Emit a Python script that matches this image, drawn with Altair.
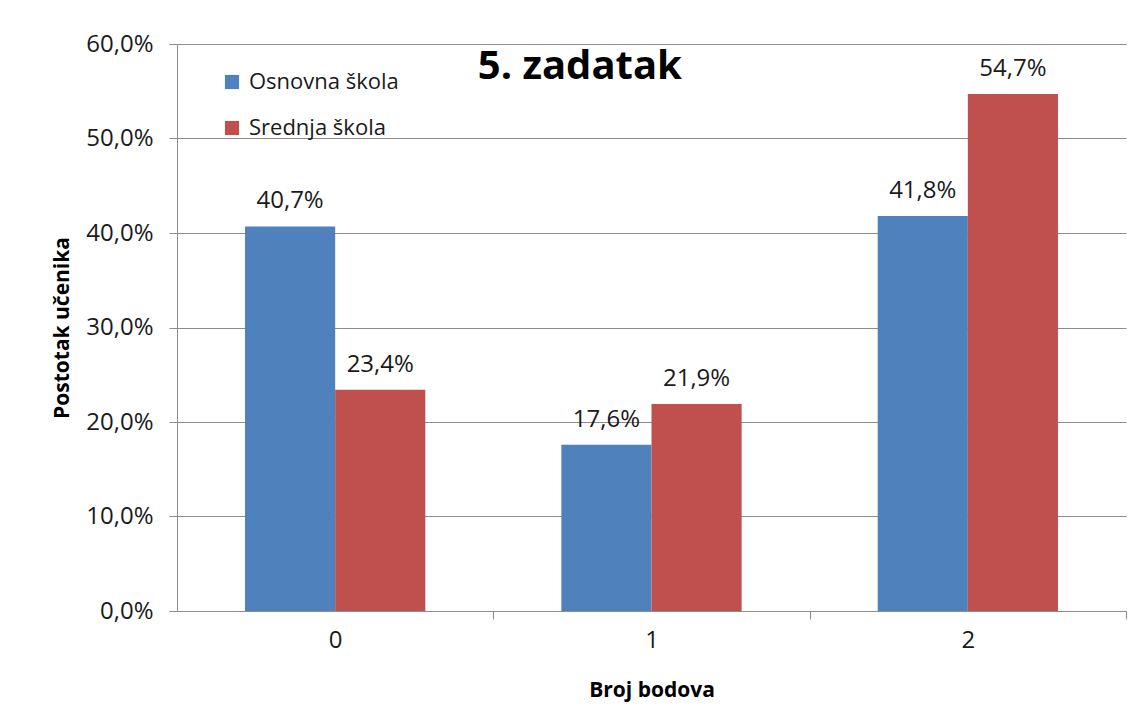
import altair as alt
import pandas as pd

categories = ["0", "1", "2"]
series = ["Osnovna škola", "Srednja škola"]
osnovna = [0.407, 0.176, 0.418]
srednja = [0.234, 0.219, 0.547]
colors = ["#4F81BD", "#C0504D"]
y_ticks = [0.0, 0.1, 0.2, 0.3, 0.4, 0.5, 0.6]

rows = []
for s, vals in zip(series, [osnovna, srednja]):
    for c, v in zip(categories, vals):
        rows.append({"bod": c, "skola": s, "val": v,
                     "lab": f"{v*100:.1f}%".replace(".", ",")})
df = pd.DataFrame(rows)

FONT = "Open Sans"
W, H = 949, 567
STEP = W / len(categories)

x = alt.X("bod:N", sort=categories,
          scale=alt.Scale(paddingInner=0.43, paddingOuter=0.215),
          axis=alt.Axis(title="Broj bodova", labelAngle=0,
                        tickOffset=STEP / 2, labelOffset=-STEP / 2,
                        tickSize=8, tickColor="#8c8c8c", domainColor="#8c8c8c",
                        labelFontSize=24, labelPadding=9, labelColor="#1a1a1a",
                        titleFontSize=21, titleFontWeight="bold", titlePadding=27,
                        titleColor="#000000", labelFont=FONT, titleFont=FONT))
xo = alt.XOffset("skola:N", sort=series, scale=alt.Scale(paddingInner=0, paddingOuter=0))
y = alt.Y("val:Q", scale=alt.Scale(domain=[0, 0.6]),
          axis=alt.Axis(title="Postotak učenika", values=y_ticks,
                        labelExpr="replace(format(datum.value, '.1%'), '.', ',')",
                        tickSize=8, tickColor="#8c8c8c", domainColor="#8c8c8c",
                        gridColor="#8c8c8c", gridWidth=1,
                        labelFontSize=24, labelPadding=16, labelColor="#1a1a1a",
                        titleFontSize=21, titleFontWeight="bold", titlePadding=13,
                        titleColor="#000000", labelFont=FONT, titleFont=FONT))

bars = alt.Chart(df).mark_bar().encode(
    x=x, xOffset=xo, y=y,
    color=alt.Color("skola:N", sort=series,
                    scale=alt.Scale(domain=series, range=colors),
                    legend=alt.Legend(title=None, orient="none", legendX=44, legendY=27,
                                      symbolType="square", symbolSize=200,
                                      symbolStrokeWidth=0, labelFontSize=22,
                                      labelFont=FONT, labelColor="#1a1a1a",
                                      rowPadding=24, symbolOffset=0, labelOffset=6)),
)

texts = alt.Chart(df).mark_text(dy=-13, fontSize=24, font=FONT, color="#1a1a1a",
                                baseline="bottom").encode(
    x=x, xOffset=xo, y=y, text="lab:N"
)

chart = alt.layer(bars, texts).properties(
    width=W, height=H,
    title=alt.TitleParams("5. zadatak", fontSize=40, fontWeight="bold", font=FONT,
                          anchor="start", dx=426, dy=59, color="#000000"),
    padding={"left": 43, "top": 24, "right": 5, "bottom": 5},
).configure_view(stroke=None)

chart.save("out.html", embed_options={"renderer": "svg", "actions": False})
